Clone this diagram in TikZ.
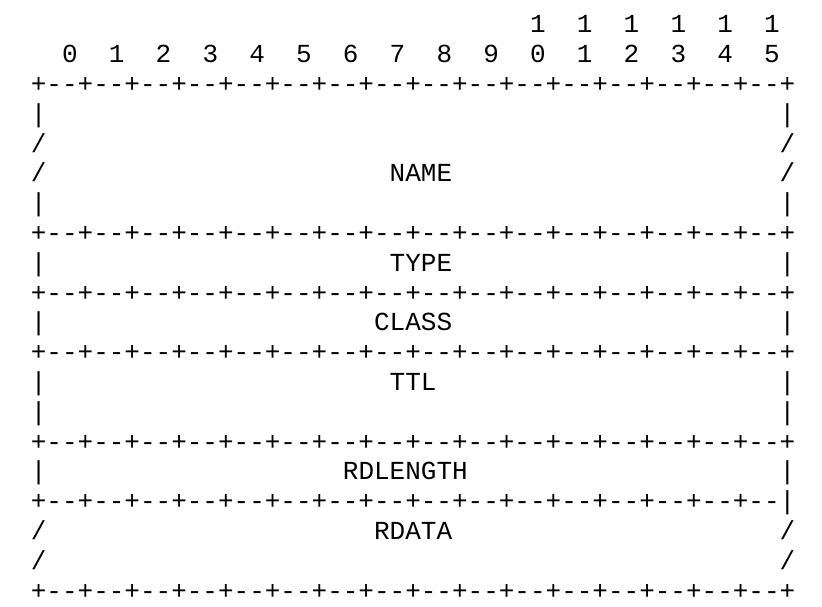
\documentclass[tikz,border=0pt]{standalone}
\usepackage{fontspec}
\setmonofont{Liberation Mono}

% one separator row of the record layout
\newcommand{\rrsep}{+-{}-+-{}-+-{}-+-{}-+-{}-+-{}-+-{}-+-{}-+-{}-+-{}-+-{}-+-{}-+-{}-+-{}-+-{}-+-{}-+}
\newcommand{\rrsepend}{+-{}-+-{}-+-{}-+-{}-+-{}-+-{}-+-{}-+-{}-+-{}-+-{}-+-{}-+-{}-+-{}-+-{}-+-{}-+-{}-|}

\tikzset{
  rrtext/.style={font=\ttfamily\fontsize{26}{30}\selectfont, inner sep=0pt, anchor=base west}
}

\begin{document}
\begin{tikzpicture}[x=15.6pt, y=-29.8pt, every node/.style={rrtext}]

  \useasboundingbox (-30.7pt,32.9pt) rectangle (791.3pt,-573.1pt);

  % bit numbers
  \foreach \c [count=\i] in {32,35,...,47}
    \node (hi\i) at (\c,0) {1};
  \foreach \d [count=\k from 0] in {0,1,2,3,4,5,6,7,8,9,0,1,2,3,4,5}
    \node (bit\k) at ({2+3*\k},1) {\d};

  % separators
  \node (sep1) at (0,2) {\rrsep};
  \node (sep2) at (0,7) {\rrsep};
  \node (sep3) at (0,9) {\rrsep};
  \node (sep4) at (0,11) {\rrsep};
  \node (sep5) at (0,14) {\rrsep};
  \node (sep6) at (0,16) {\rrsepend};
  \node (sep7) at (0,19) {\rrsep};

  % side marks
  \foreach \r in {3,6,8,10,12,13,15} {
    \node (l\r) at (0,\r) {|};
    \node (r\r) at (48,\r) {|};
  }
  \foreach \r in {4,5,17,18} {
    \node (l\r) at (0,\r) {/};
    \node (r\r) at (48,\r) {/};
  }

  % fields
  \node (name) at (23,5) {NAME};
  \node (type) at (23,8) {TYPE};
  \node (class) at (22,10) {CLASS};
  \node (ttl) at (23,12) {TTL};
  \node (rdlength) at (20,15) {RDLENGTH};
  \node (rdata) at (22,17) {RDATA};

\end{tikzpicture}
\end{document}
